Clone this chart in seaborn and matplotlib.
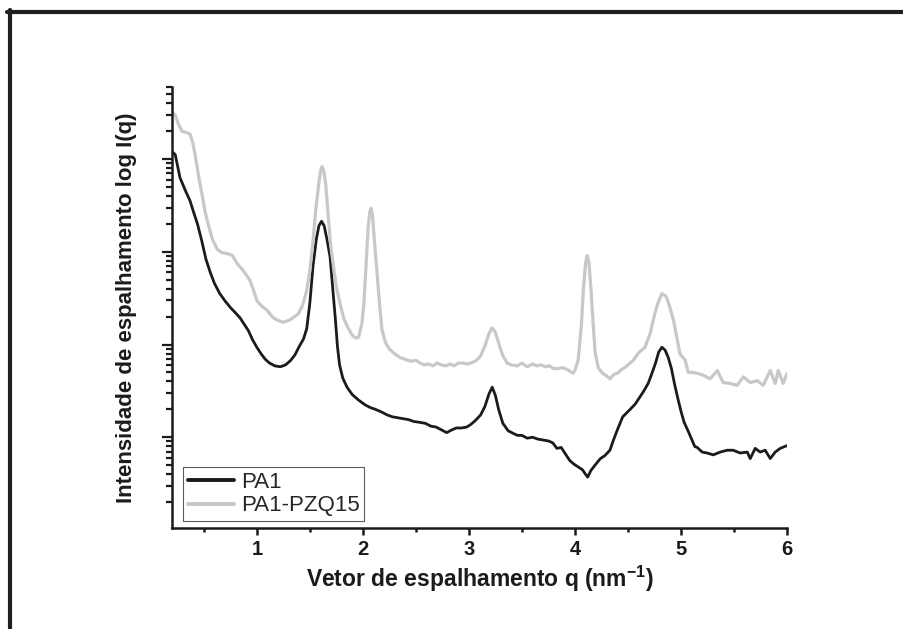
import numpy as np
import pandas as pd
import matplotlib
matplotlib.use("Agg")
import matplotlib.pyplot as plt
from matplotlib.lines import Line2D
from matplotlib.ticker import LogLocator, NullFormatter, MultipleLocator
import seaborn as sns

# ---- data (q in nm^-1, log10 of intensity) ----
q_pa1 = [0.20, 0.23, 0.275, 0.33, 0.37, 0.40, 0.44, 0.48, 0.52, 0.56, 0.60, 0.65,
         0.70, 0.75, 0.80, 0.84, 0.88, 0.92, 0.96, 1.00, 1.04, 1.08, 1.12, 1.17,
         1.22, 1.27, 1.32, 1.36, 1.40, 1.44, 1.47, 1.50, 1.53, 1.56, 1.585, 1.61,
         1.635, 1.66, 1.69, 1.715, 1.74, 1.76, 1.78, 1.81, 1.85, 1.90, 1.96, 2.02,
         2.07, 2.12, 2.18, 2.23, 2.28, 2.33, 2.38, 2.43, 2.48, 2.54, 2.59, 2.64,
         2.69, 2.74, 2.79, 2.84, 2.88, 2.93, 2.98, 3.02, 3.06, 3.11, 3.15, 3.19,
         3.22, 3.25, 3.28, 3.32, 3.37, 3.42, 3.46, 3.50, 3.55, 3.60, 3.65, 3.70,
         3.75, 3.79, 3.83, 3.87, 3.91, 3.95, 3.99, 4.03, 4.07, 4.10, 4.12, 4.15,
         4.19, 4.24, 4.28, 4.33, 4.36, 4.40, 4.45, 4.52, 4.57, 4.61, 4.65, 4.69,
         4.72, 4.76, 4.79, 4.82, 4.85, 4.88, 4.91, 4.94, 4.97, 5.00, 5.03, 5.07,
         5.10, 5.13, 5.153, 5.20, 5.247, 5.304, 5.370, 5.436, 5.492, 5.558, 5.625,
         5.653, 5.700, 5.747, 5.794, 5.842, 5.889, 5.936, 6.00]
logI_pa1 = [4.08, 4.05, 3.80, 3.65, 3.55, 3.44, 3.30, 3.12, 2.92, 2.78, 2.66, 2.55,
            2.47, 2.40, 2.34, 2.29, 2.22, 2.15, 2.05, 1.97, 1.90, 1.84, 1.80, 1.77,
            1.76, 1.78, 1.83, 1.89, 1.98, 2.06, 2.17, 2.45, 2.85, 3.13, 3.28, 3.33,
            3.28, 3.14, 2.95, 2.62, 2.28, 1.98, 1.78, 1.64, 1.54, 1.46, 1.40, 1.35,
            1.32, 1.30, 1.27, 1.24, 1.22, 1.21, 1.20, 1.19, 1.17, 1.16, 1.15, 1.12,
            1.11, 1.08, 1.05, 1.08, 1.10, 1.10, 1.11, 1.14, 1.18, 1.24, 1.33, 1.47,
            1.54, 1.45, 1.30, 1.15, 1.07, 1.04, 1.02, 1.02, 0.99, 1.00, 0.98, 0.97,
            0.96, 0.94, 0.88, 0.89, 0.82, 0.75, 0.71, 0.68, 0.65, 0.60, 0.57, 0.64,
            0.70, 0.77, 0.80, 0.86, 0.96, 1.08, 1.22, 1.30, 1.36, 1.43, 1.50, 1.58,
            1.67, 1.80, 1.92, 1.97, 1.94, 1.86, 1.74, 1.57, 1.42, 1.28, 1.16, 1.06,
            0.98, 0.90, 0.89, 0.84, 0.83, 0.81, 0.84, 0.86, 0.86, 0.83, 0.84,
            0.77, 0.88, 0.84, 0.86, 0.77, 0.84, 0.88, 0.91]

q_pzq = [0.20, 0.228, 0.26, 0.294, 0.33, 0.370, 0.395, 0.417, 0.45, 0.483, 0.51,
         0.540, 0.58, 0.625, 0.67, 0.728, 0.77, 0.81, 0.87, 0.936, 0.97, 1.002,
         1.05, 1.096, 1.153, 1.20, 1.247, 1.30, 1.342, 1.39, 1.43, 1.47, 1.50,
         1.53, 1.555, 1.58, 1.60, 1.615, 1.63, 1.65, 1.672, 1.695, 1.719, 1.75,
         1.785, 1.82, 1.86, 1.90, 1.93, 1.96, 1.99, 2.01, 2.03, 2.05, 2.065,
         2.078, 2.09, 2.11, 2.134, 2.16, 2.18, 2.21, 2.25, 2.30, 2.35, 2.40,
         2.45, 2.50, 2.54, 2.58, 2.62, 2.66, 2.70, 2.74, 2.78, 2.82, 2.86, 2.90,
         2.945, 2.99, 3.04, 3.07, 3.106, 3.15, 3.19, 3.22, 3.25, 3.29, 3.32,
         3.36, 3.40, 3.455, 3.50, 3.55, 3.60, 3.64, 3.68, 3.72, 3.76, 3.80, 3.84,
         3.88, 3.93, 3.98, 4.00, 4.03, 4.06, 4.08, 4.10, 4.115, 4.13, 4.15, 4.17,
         4.19, 4.22, 4.26, 4.30, 4.33, 4.37, 4.40, 4.44, 4.48, 4.52, 4.55, 4.60,
         4.66, 4.71, 4.75, 4.78, 4.82, 4.86, 4.89, 4.93, 4.96, 4.99, 5.04, 5.068,
         5.11, 5.153, 5.209, 5.275, 5.342, 5.398, 5.464, 5.530, 5.587, 5.653,
         5.719, 5.775, 5.842, 5.889, 5.917, 5.964, 6.00]
logI_pzq = [4.50, 4.48, 4.38, 4.30, 4.29, 4.27, 4.18, 4.05, 3.82, 3.62, 3.44,
            3.30, 3.14, 3.03, 2.99, 2.98, 2.96, 2.88, 2.80, 2.69, 2.58, 2.47,
            2.41, 2.37, 2.29, 2.26, 2.24, 2.26, 2.29, 2.33, 2.42, 2.58, 2.80,
            3.12, 3.45, 3.70, 3.87, 3.92, 3.88, 3.72, 3.40, 3.08, 2.87, 2.62,
            2.44, 2.28, 2.18, 2.10, 2.07, 2.08, 2.22, 2.45, 2.85, 3.27, 3.43,
            3.47, 3.40, 3.10, 2.76, 2.40, 2.16, 2.03, 1.95, 1.90, 1.86, 1.84,
            1.82, 1.83, 1.80, 1.78, 1.79, 1.77, 1.80, 1.78, 1.77, 1.79, 1.77, 1.80,
            1.80, 1.79, 1.81, 1.83, 1.87, 1.98, 2.12, 2.18, 2.13, 1.98, 1.88,
            1.80, 1.78, 1.77, 1.80, 1.76, 1.79, 1.77, 1.78, 1.76, 1.77, 1.74, 1.74,
            1.75, 1.73, 1.69, 1.72, 1.83, 2.20, 2.60, 2.88, 2.96, 2.90, 2.62, 2.25,
            1.92, 1.75, 1.69, 1.66, 1.63, 1.68, 1.69, 1.73, 1.76, 1.80, 1.83, 1.91,
            1.97, 2.12, 2.32, 2.44, 2.55, 2.52, 2.42, 2.26, 2.08, 1.90, 1.83, 1.70,
            1.70, 1.69, 1.67, 1.63, 1.72, 1.59, 1.58, 1.56, 1.65, 1.59,
            1.61, 1.56, 1.72, 1.58, 1.72, 1.58, 1.69]

series_names = ["PA1", "PA1-PZQ15"]
series_colors = ["#1c1a1b", "#c8c8c8"]

df = pd.concat([
    pd.DataFrame({"q": q_pa1, "I": np.power(10.0, logI_pa1), "amostra": series_names[0]}),
    pd.DataFrame({"q": q_pzq, "I": np.power(10.0, logI_pzq), "amostra": series_names[1]}),
], ignore_index=True)

sns.set_theme(style="ticks")
plt.rcParams["font.family"] = ["Liberation Sans", "DejaVu Sans"]
plt.rcParams["mathtext.fontset"] = "custom"
plt.rcParams["mathtext.rm"] = "Liberation Sans"
plt.rcParams["mathtext.bf"] = "Liberation Sans:bold"

fig = plt.figure(figsize=(9.04, 6.29), dpi=100)
ax = fig.add_axes([0.1903, 0.1606, 0.6803, 0.7011])

sns.lineplot(data=df, x="q", y="I", hue="amostra", hue_order=series_names,
             palette=series_colors, ax=ax, estimator=None, sort=False, linewidth=2.1)
for ln, lw in zip(ax.get_lines(), [2.0, 2.3]):
    ln.set_linewidth(lw)
    ln.set_solid_joinstyle("round")

ax.set_yscale("log")
ax.set_xlim(0.2, 6.0)
ax.set_ylim(1.05, 6.0e4)

ax.xaxis.set_major_locator(MultipleLocator(1))
ax.xaxis.set_minor_locator(MultipleLocator(0.5))
ax.yaxis.set_major_locator(LogLocator(base=10, numticks=10))
ax.yaxis.set_minor_locator(LogLocator(base=10, subs=np.arange(2, 10), numticks=100))
ax.yaxis.set_major_formatter(NullFormatter())
ax.yaxis.set_minor_formatter(NullFormatter())

for s in ["top", "right"]:
    ax.spines[s].set_visible(False)
for s in ["left", "bottom"]:
    ax.spines[s].set_linewidth(1.8)
    ax.spines[s].set_color("#1c1a1b")

ax.tick_params(axis="x", which="major", direction="out", length=5, width=1.8,
               color="#1c1a1b", labelsize=14.5, pad=4)
ax.tick_params(axis="x", which="minor", direction="out", length=3, width=1.8,
               color="#1c1a1b")
ax.tick_params(axis="y", which="major", direction="out", length=7, width=1.6,
               color="#1c1a1b")
ax.tick_params(axis="y", which="minor", direction="out", length=4, width=1.6,
               color="#1c1a1b")
for lab in ax.get_xticklabels():
    lab.set_fontweight("bold")
    lab.set_color("#1c1a1b")

ax.set_xlabel("Vetor de espalhamento q (nm$^{\\mathbf{-1}}$)", fontsize=16.5,
              fontweight="bold", color="#1c1a1b", labelpad=3)
ax.set_ylabel("Intensidade de espalhamento log I(q)", fontsize=16,
              fontweight="bold", color="#1c1a1b", labelpad=15)

leg = ax.legend(loc="lower left", bbox_to_anchor=(0.018, 0.016), frameon=True,
                fancybox=False, fontsize=16, handlelength=2.1, handletextpad=0.3,
                borderpad=0.2, labelspacing=0.12, borderaxespad=0.0)
leg.get_frame().set_edgecolor("#333333")
leg.get_frame().set_linewidth(0.8)
for h in leg.get_lines():
    h.set_linewidth(2.8)
leg.set_title(None)

# outer frame lines of the original figure
fig.add_artist(Line2D([7 / 904, 1.0], [1 - 11.5 / 629, 1 - 11.5 / 629],
                      transform=fig.transFigure, color="#231f20", linewidth=3))
fig.add_artist(Line2D([9.5 / 904, 9.5 / 904], [0.0, 1 - 10 / 629],
                      transform=fig.transFigure, color="#231f20", linewidth=3))

fig.savefig("out.png", dpi=100, facecolor="white")
